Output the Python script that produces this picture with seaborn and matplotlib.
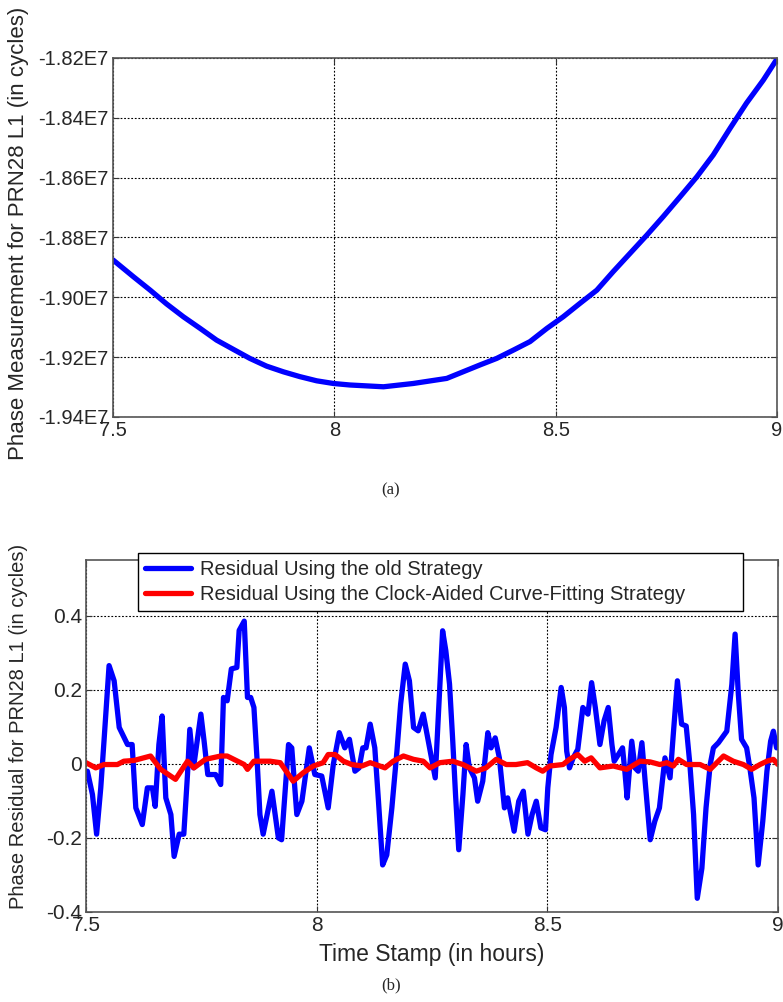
import matplotlib
matplotlib.use("Agg")
import matplotlib.pyplot as plt
from matplotlib.ticker import FuncFormatter, FixedLocator
import numpy as np
import pandas as pd
import seaborn as sns

# ---------------- data ----------------
# (a) phase measurement (values in units of 1E7 cycles)
phase_t = [7.500, 7.546, 7.584, 7.621, 7.659, 7.697, 7.734, 7.772, 7.809, 7.847,
           7.885, 7.922, 7.960, 7.998, 8.035, 8.073, 8.111, 8.178, 8.254, 8.329,
           8.367, 8.405, 8.442, 8.480, 8.517, 8.555, 8.593, 8.630, 8.668, 8.706,
           8.743, 8.781, 8.819, 8.856, 8.894, 8.931, 8.969, 9.000]
phase_v_e7 = [-1.8875, -1.8931, -1.8976, -1.9022, -1.9065, -1.9104, -1.9143, -1.9174,
              -1.9204, -1.9230, -1.9249, -1.9265, -1.9279, -1.9288, -1.9293, -1.9296,
              -1.9299, -1.9288, -1.9271, -1.9226, -1.9204, -1.9176, -1.9148, -1.9104,
              -1.9065, -1.9020, -1.8976, -1.8914, -1.8853, -1.8792, -1.8730, -1.8664,
              -1.8597, -1.8524, -1.8435, -1.8351, -1.8274, -1.8203]

# (b) residuals - old strategy
old_t = [7.503, 7.514, 7.523, 7.532, 7.539, 7.550, 7.561, 7.572, 7.590, 7.600,
         7.608, 7.622, 7.633, 7.644, 7.650, 7.658, 7.665, 7.673, 7.684, 7.691,
         7.702, 7.712, 7.720, 7.725, 7.733, 7.749, 7.756, 7.764, 7.781, 7.792,
         7.798, 7.806, 7.815, 7.827, 7.832, 7.843, 7.850, 7.857, 7.864, 7.871,
         7.877, 7.884, 7.903, 7.917, 7.924, 7.939, 7.946, 7.957, 7.968, 7.984,
         7.996, 8.011, 8.025, 8.036, 8.049, 8.061, 8.071, 8.083, 8.092, 8.100,
         8.107, 8.116, 8.126, 8.134, 8.143, 8.152, 8.163, 8.174, 8.182, 8.192,
         8.201, 8.210, 8.220, 8.231, 8.242, 8.257, 8.273, 8.280, 8.288, 8.295,
         8.301, 8.308, 8.317, 8.324, 8.331, 8.342, 8.349, 8.360, 8.371, 8.378,
         8.387, 8.396, 8.407, 8.414, 8.428, 8.438, 8.448, 8.458, 8.467, 8.476,
         8.486, 8.496, 8.501, 8.508, 8.519, 8.530, 8.537, 8.542, 8.548, 8.556,
         8.566, 8.577, 8.588, 8.596, 8.604, 8.614, 8.623, 8.632, 8.640, 8.645,
         8.654, 8.663, 8.668, 8.673, 8.683, 8.690, 8.697, 8.705, 8.712, 8.723,
         8.733, 8.743, 8.755, 8.766, 8.773, 8.782, 8.791, 8.801, 8.809, 8.817,
         8.825, 8.835, 8.844, 8.853, 8.860, 8.871, 8.889, 8.900, 8.907, 8.914,
         8.921, 8.932, 8.939, 8.948, 8.957, 8.967, 8.976, 8.984, 8.990, 8.997]
old_v = [-0.020, -0.083, -0.190, -0.065, 0.061, 0.265, 0.224, 0.098, 0.052, 0.052,
         -0.119, -0.164, -0.065, -0.065, -0.115, 0.052, 0.129, -0.092, -0.137, -0.250,
         -0.190, -0.190, -0.029, 0.093, -0.011, 0.134, 0.061, -0.029, -0.029, -0.056,
         0.179, 0.170, 0.256, 0.260, 0.360, 0.385, 0.179, 0.179, 0.152, 0.007,
         -0.137, -0.190, -0.074, -0.200, -0.205, 0.052, 0.043, -0.137, -0.101, 0.043,
         -0.029, -0.033, -0.119, -0.002, 0.084, 0.043, 0.066, -0.020, -0.011, 0.043,
         0.043, 0.107, 0.043, -0.101, -0.273, -0.246, -0.119, 0.034, 0.161, 0.269,
         0.224, 0.098, 0.089, 0.134, 0.061, -0.038, 0.359, 0.305, 0.215, 0.061,
         -0.083, -0.232, -0.083, 0.052, -0.011, -0.038, -0.101, -0.047, 0.084, 0.043,
         0.070, 0.016, -0.119, -0.092, -0.182, -0.101, -0.074, -0.190, -0.137, -0.101,
         -0.173, -0.178, -0.065, 0.025, 0.098, 0.206, 0.152, 0.034, -0.011, 0.016,
         0.039, 0.152, 0.134, 0.219, 0.152, 0.052, 0.116, 0.152, 0.052, 0.007,
         0.025, 0.043, -0.020, -0.092, 0.061, -0.011, -0.020, 0.057, -0.047, -0.205,
         -0.155, -0.119, 0.016, -0.038, 0.079, 0.224, 0.107, 0.102, -0.002, -0.137,
         -0.363, -0.282, -0.119, -0.002, 0.043, 0.057, 0.088, 0.215, 0.350, 0.188,
         0.066, 0.043, -0.011, -0.092, -0.273, -0.155, -0.020, 0.061, 0.088, 0.043]

# (b) residuals - clock-aided curve fitting
new_t = [7.500, 7.521, 7.539, 7.568, 7.582, 7.604, 7.640, 7.662, 7.694, 7.720,
         7.734, 7.759, 7.792, 7.806, 7.843, 7.850, 7.864, 7.877, 7.899, 7.921,
         7.949, 7.971, 7.993, 8.014, 8.025, 8.040, 8.058, 8.076, 8.098, 8.116,
         8.137, 8.148, 8.166, 8.188, 8.210, 8.231, 8.246, 8.267, 8.295, 8.317,
         8.346, 8.367, 8.389, 8.411, 8.432, 8.457, 8.476, 8.490, 8.505, 8.534,
         8.548, 8.566, 8.581, 8.595, 8.614, 8.643, 8.672, 8.701, 8.723, 8.744,
         8.759, 8.773, 8.784, 8.802, 8.831, 8.853, 8.882, 8.903, 8.925, 8.943,
         8.961, 8.976, 8.990, 9.000]
new_v = [0.003, -0.011, -0.002, -0.002, 0.007, 0.009, 0.021, -0.015, -0.042, 0.007,
         -0.011, 0.012, 0.021, 0.021, -0.002, -0.015, 0.007, 0.007, 0.007, 0.003,
         -0.047, -0.024, -0.006, 0.003, 0.025, 0.025, 0.007, -0.002, -0.006, 0.003,
         -0.006, -0.011, 0.007, 0.021, 0.012, 0.007, -0.011, 0.003, 0.007, -0.002,
         -0.020, -0.011, 0.012, -0.002, -0.002, 0.003, -0.011, -0.020, -0.006, -0.002,
         0.012, 0.025, 0.007, 0.016, -0.011, -0.006, -0.015, 0.007, 0.005, -0.002,
         0.003, -0.006, 0.012, -0.002, -0.002, -0.015, 0.021, 0.007, -0.002, -0.015,
         -0.002, 0.007, 0.012, -0.002]

top_yticks_e7 = [-1.94, -1.92, -1.90, -1.88, -1.86, -1.84, -1.82]
x_ticks = [7.5, 8, 8.5, 9]
x_ticklabels = ["7.5", "8", "8.5", "9"]
bot_yticks = [-0.4, -0.2, 0, 0.2, 0.4]
bot_yticklabels = ["-0.4", "-0.2", "0", "0.2", "0.4"]

label_old = "Residual Using the old Strategy"
label_new = "Residual Using the Clock-Aided Curve-Fitting Strategy"

# ---------------- style ----------------
sns.set_theme(style="white")
plt.rcParams["font.family"] = ["Liberation Sans", "DejaVu Sans"]
plt.rcParams["axes.unicode_minus"] = False

fig = plt.figure(figsize=(7.83, 10.02), dpi=100)
ax1 = fig.add_axes([113 / 783, 1 - 417 / 1002, (777 - 113) / 783, (417 - 58) / 1002])
ax2 = fig.add_axes([86 / 783, 1 - 912 / 1002, (778 - 86) / 783, (912 - 560) / 1002])

grid_kw = dict(color="black", linewidth=0.8, linestyle=(0, (1.6, 1.6)))

def style_axes(ax, tick_size):
    for s in ax.spines.values():
        s.set_color("#555555")
        s.set_linewidth(1.2)
        s.set_visible(True)
    ax.tick_params(direction="in", length=4, width=0.8, color="#333333",
                   top=True, right=True, labelsize=tick_size, pad=3,
                   bottom=True, left=True)
    ax.grid(True, **grid_kw)
    ax.set_axisbelow(True)

# ---- (a) ----
df_a = pd.DataFrame({"t": phase_t, "v": np.array(phase_v_e7) * 1e7})
sns.lineplot(data=df_a, x="t", y="v", ax=ax1, color="#0000ff", linewidth=3.8,
             sort=True, estimator=None)
ax1.set_xlim(7.5, 9)
ax1.set_ylim(-1.94e7, -1.82e7)
ax1.xaxis.set_major_locator(FixedLocator(x_ticks))
ax1.set_xticklabels(x_ticklabels)
ax1.yaxis.set_major_locator(FixedLocator(np.array(top_yticks_e7) * 1e7))
ax1.yaxis.set_major_formatter(FuncFormatter(lambda v, p: f"{v / 1e7:.2f}E7"))
ax1.set_xlabel("")
ax1.set_ylabel("Phase Measurement for PRN28 L1 (in cycles)", fontsize=16)
style_axes(ax1, 14.5)
ax1.yaxis.set_label_coords(-0.126, 0.512)

# ---- (b) ----
df_old = pd.DataFrame({"t": old_t, "v": old_v})
df_new = pd.DataFrame({"t": new_t, "v": new_v})
sns.lineplot(data=df_old, x="t", y="v", ax=ax2, color="#0000ff", linewidth=3.8,
             label=label_old, sort=True, estimator=None)
sns.lineplot(data=df_new, x="t", y="v", ax=ax2, color="#ff0000", linewidth=3.8,
             label=label_new, sort=True, estimator=None)
ax2.set_xlim(7.5, 9)
ax2.set_ylim(-0.4, 0.55)
ax2.xaxis.set_major_locator(FixedLocator(x_ticks))
ax2.set_xticklabels(x_ticklabels)
ax2.yaxis.set_major_locator(FixedLocator(bot_yticks))
ax2.set_yticklabels(bot_yticklabels)
ax2.set_xlabel("Time Stamp (in hours)", fontsize=16.5, labelpad=6)
ax2.set_ylabel("Phase Residual for PRN28 L1 (in cycles)", fontsize=14.5)
style_axes(ax2, 15)
ax2.yaxis.set_label_coords(-0.084, 0.526)

leg = ax2.legend(loc="upper left", bbox_to_anchor=(0.075, 0.82, 0.874, 0.2),
                 mode="expand", borderaxespad=0,
                 fontsize=14.5, frameon=True, fancybox=False, handlelength=2.3,
                 handletextpad=0.45, borderpad=0.35, labelspacing=0.3)
leg.get_frame().set_edgecolor("black")
leg.get_frame().set_linewidth(1.0)
leg.get_frame().set_alpha(1)
for line in leg.get_lines():
    line.set_linewidth(3.8)

# captions
fig.text(391 / 783, 1 - 490 / 1002, "(a)", ha="center", va="center",
         family=["Liberation Serif", "DejaVu Serif"], fontsize=12)
fig.text(391 / 783, 1 - 985 / 1002, "(b)", ha="center", va="center",
         family=["Liberation Serif", "DejaVu Serif"], fontsize=12)

fig.savefig("out.png", dpi=100)
